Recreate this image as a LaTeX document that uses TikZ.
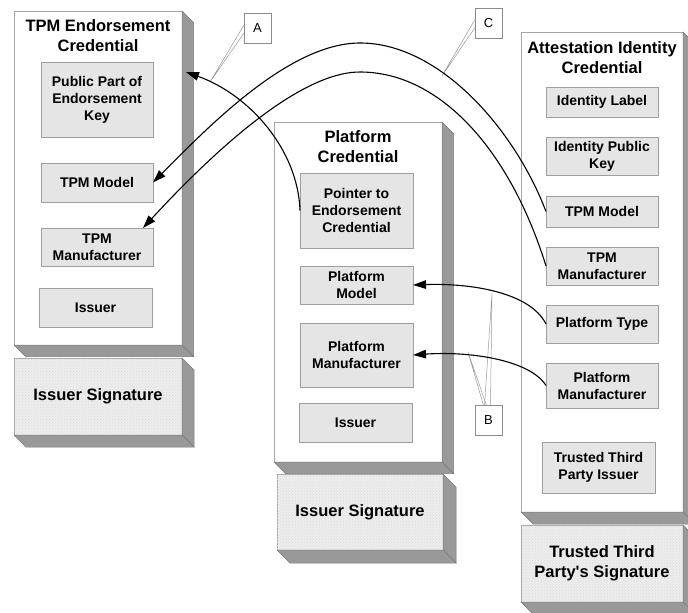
\documentclass[tikz,border=0pt]{standalone}
\usepackage{fontspec}
\setmainfont{Liberation Sans}
\usetikzlibrary{arrows.meta,calc,patterns}
\newcommand\innerfont{\fontsize{14}{17}\selectfont\bfseries}
\newcommand\bigfont{\fontsize{16.5}{20}\selectfont\bfseries}
\newcommand\myextrude[2]{%
  \path[sideface] (#1.north east) -- ++(#2,#2) -- ($(#1.south east)+(#2,#2)$) -- (#1.south east) -- cycle;
  \path[sideface] (#1.south west) -- (#1.south east) -- ++(#2,#2) -- ($(#1.south west)+(#2,#2)$) -- cycle;}
\begin{document}
\begin{tikzpicture}[x=1pt,y=-1pt,
  outerbox/.style={draw=black!35, fill=white, line width=0.7pt, inner sep=0pt, outer sep=0pt},
  sideface/.style={fill=black!40, draw=black!52, line width=0.5pt},
  sigbox/.style={draw=black!35, fill=black!7, line width=0.6pt,
     postaction={pattern=crosshatch dots, pattern color=black!14},
     font=\bigfont, align=center, inner sep=0pt, outer sep=0pt},
  titletext/.style={font=\bigfont, align=center, inner sep=0pt},
  innerbox/.style={draw=black!38, fill=black!10, line width=0.6pt, font=\innerfont,
     align=center, inner sep=0pt, outer sep=0pt},
  calloutbox/.style={draw=black!45, fill=white, line width=0.6pt, font=\fontsize{13}{15}\selectfont,
     inner sep=0pt, outer sep=0pt, minimum width=27pt, minimum height=30pt},
  calloutline/.style={draw=black!40, line width=0.5pt},
  link/.style={draw=black, line width=1.1pt, -{Triangle[length=13pt,width=8.5pt]}},
  linkplain/.style={draw=black, line width=1.1pt}
]
\useasboundingbox (0,0) rectangle (688,613);

% ---------- left credential ----------
\node[outerbox, minimum width=168pt, minimum height=334pt] (L) at (98,178) {};
\myextrude{L}{11.5}
\node[sigbox, minimum width=168pt, minimum height=77pt] (Lsig) at (98,396.5) {Issuer Signature};
\myextrude{Lsig}{12}
\node[titletext] (Ltitle) at (98,36) {TPM Endorsement\\Credential};
\node[innerbox, minimum width=112pt, minimum height=75pt] (Lpub) at (97,99.5) {Public Part of\\Endorsement\\Key};
\node[innerbox, minimum width=112pt, minimum height=39pt] (Ltm) at (97,182.5) {TPM Model};
\node[innerbox, minimum width=112pt, minimum height=38pt] (Ltmf) at (97,247) {TPM\\Manufacturer};
\node[innerbox, minimum width=113pt, minimum height=39pt] (Liss) at (95.5,307.5) {Issuer};

% ---------- middle credential ----------
\node[outerbox, minimum width=168pt, minimum height=340pt] (M) at (358,292) {};
\myextrude{M}{11.5}
\node[sigbox, minimum width=166pt, minimum height=76pt] (Msig) at (360,512) {Issuer Signature};
\myextrude{Msig}{13}
\node[titletext] (Mtitle) at (358,147) {Platform\\Credential};
\node[innerbox, minimum width=113pt, minimum height=75pt] (Mptr) at (356.5,210.5) {Pointer to\\Endorsement\\Credential};
\node[innerbox, minimum width=113pt, minimum height=38pt] (Mmod) at (356.5,285) {Platform\\Model};
\node[innerbox, minimum width=113pt, minimum height=64pt] (Mman) at (356.5,355) {Platform\\Manufacturer};
\node[innerbox, minimum width=113pt, minimum height=39pt] (Miss) at (355.5,422.5) {Issuer};

% ---------- right credential ----------
\node[outerbox, minimum width=162pt, minimum height=480pt] (R) at (602,272) {};
\myextrude{R}{12}
\node[sigbox, minimum width=162pt, minimum height=77pt] (Rsig) at (602,563.5) {Trusted Third\\Party\textquotesingle s Signature};
\myextrude{Rsig}{11}
\node[titletext] (Rtitle) at (602,58) {Attestation Identity\\Credential};
\node[innerbox, minimum width=112pt, minimum height=30pt] (Rlab) at (602,102) {Identity Label};
\node[innerbox, minimum width=112pt, minimum height=38pt] (Rkey) at (602,156) {Identity Public\\Key};
\node[innerbox, minimum width=112pt, minimum height=31pt] (Rtm) at (602,211.5) {TPM Model};
\node[innerbox, minimum width=112pt, minimum height=38pt] (Rtmf) at (602,266) {TPM\\Manufacturer};
\node[innerbox, minimum width=112pt, minimum height=38pt] (Rpt) at (602,324) {Platform Type};
\node[innerbox, minimum width=112pt, minimum height=45pt] (Rpm) at (602,385.5) {Platform\\Manufacturer};
\node[innerbox, minimum width=113pt, minimum height=51pt] (Rttp) at (598.5,467.5) {Trusted Third\\Party Issuer};

% ---------- callouts ----------
\node[calloutbox] (A) at (257.5,28) {A};
\node[calloutbox] (C) at (488.5,23.5) {C};
\node[calloutbox] (B) at (488.5,420.5) {B};
\coordinate (Aap) at (210,82);
\coordinate (Cap) at (442,76);
\coordinate (Bap1) at (492,293);
\coordinate (Bap2) at (468,352);
\draw[calloutline] ($(A.west)+(0,-3)$) -- (Aap) -- ($(A.west)+(0,5)$);
\draw[calloutline] ($(C.west)+(0,-4)$) -- (Cap) -- ($(C.west)+(0,4)$);
\draw[calloutline] ($(B.north)+(-4,0)$) -- (Bap1) -- ($(B.north)+(2,0)$);
\draw[calloutline] ($(B.north)+(-5,0)$) -- (Bap2) -- ($(B.north)+(-2,0)$);

% ---------- connectors ----------
\coordinate (Aend) at (186,72);
\draw[link] (Mptr.west) .. controls (298,150) and (250,95) .. (Aend);
\draw[link] (Rtm.west) .. controls (515,130) and (440,43) .. (360,43)
   .. controls (290,43) and (210,125) .. (Ltm.east);
\draw[link] (Rtmf.west) .. controls (510,150) and (440,72) .. (360,72)
   .. controls (300,72) and (215,150) .. ([xshift=-10pt]Ltmf.north east);
\draw[link] (Rpt.west) .. controls (530,292) and (470,283) .. (Mmod.east);
\draw[link] (Rpm.west) .. controls (530,360) and (470,351) .. (Mman.east);
\end{tikzpicture}
\end{document}
